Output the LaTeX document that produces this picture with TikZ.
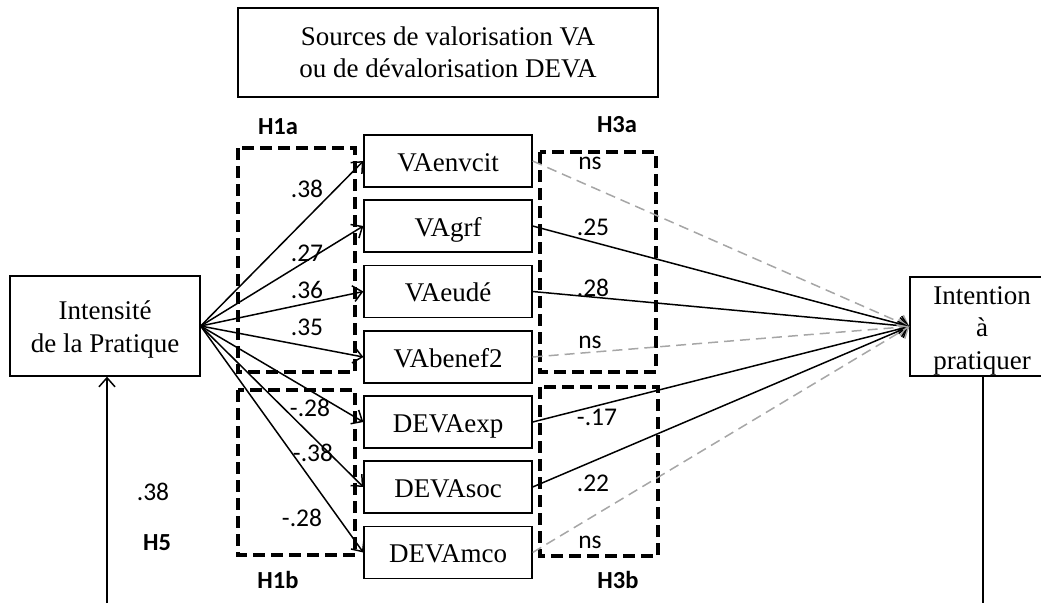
\documentclass[tikz,border=0pt]{standalone}
\usepackage{fontspec}
\setmainfont{Liberation Serif}
\newfontfamily\numfont{Carlito}
\usetikzlibrary{arrows.meta}
\begin{document}
\begin{tikzpicture}[x=1pt,y=-1pt,
  box/.style={draw,line width=1.3pt,inner sep=0pt,align=center,font=\fontsize{27}{32.5}\selectfont},
  midbox/.style={box,minimum width=168pt,minimum height=52pt,text height=22pt,text depth=2pt},
  hyp/.style={draw,line width=3.5pt,dash pattern=on 12pt off 6pt},
  coef/.style={font=\numfont\fontsize{25.5}{28}\selectfont,inner sep=0pt},
  hlab/.style={font=\numfont\bfseries\fontsize{24.5}{28}\selectfont,inner sep=0pt},
  conn/.style={line width=1.5pt,-{Straight Barb[length=9pt,width=16pt,line width=1.5pt]}},
  nsconn/.style={conn,draw=black!35,dash pattern=on 10pt off 6pt},
  plain/.style={line width=1.5pt}
]
\useasboundingbox (0,0) rectangle (1041,603);
\clip (0,0) rectangle (1041,603);

% dashed hypothesis frames
\draw[hyp] (238,148) rectangle (355,372);
\draw[hyp] (238,390) rectangle (355,555);
\draw[hyp] (540,152) rectangle (656,372);
\draw[hyp] (540,387) rectangle (658,556);

% main boxes
\node[box,minimum width=420pt,minimum height=89pt] (src) at (448,52.5) {Sources de valorisation VA\\ou de dévalorisation DEVA};
\node[box,minimum width=190pt,minimum height=100pt] (ip) at (105,326) {\rule{0pt}{26pt}Intensité\\de la Pratique};
\node[box,minimum width=144pt,minimum height=99pt] (it) at (982,326.5) {\rule{0pt}{26pt}Intention\\à\\pratiquer};

\node[midbox] (m1) at (448,161) {VAenvcit};
\node[midbox] (m2) at (448,226) {VAgrf};
\node[midbox] (m3) at (448,291.5) {VAeudé};
\node[midbox] (m4) at (448,357) {VAbenef2};
\node[midbox] (m5) at (448,422) {DEVAexp};
\node[midbox] (m6) at (448,487) {DEVAsoc};
\node[midbox] (m7) at (448,552.5) {DEVAmco};

% hypothesis labels
\node[hlab] (h1a) at (278,127) {H1a};
\node[hlab] (h1b) at (278,580) {H1b};
\node[hlab] (h3a) at (617,125) {H3a};
\node[hlab] (h3b) at (618,580) {H3b};
\node[hlab] (h5) at (157,543) {H5};
\node[coef] (c5) at (153,492) {.38};

% left paths
\foreach \m in {m1,m2,m3,m4,m5,m6,m7}
  \draw[conn] (ip.east) -- (\m.west);

% right paths
\draw[nsconn] (m1.east) -- (it.west);
\draw[conn] (m2.east) -- (it.west);
\draw[conn] (m3.east) -- (it.west);
\draw[nsconn] (m4.east) -- (it.west);
\draw[conn] (m5.east) -- (it.west);
\draw[conn] (m6.east) -- (it.west);
\draw[nsconn] (m7.east) -- (it.west);

% coefficients
\node[coef] (a1) at (307,189) {.38};
\node[coef] (a2) at (307,253) {.27};
\node[coef] (a3) at (307,290) {.36};
\node[coef] (a4) at (307,327) {.35};
\node[coef] (a5) at (310,408) {-.28};
\node[coef] (a6) at (313,453) {-.38};
\node[coef] (a7) at (302,518) {-.28};

\node[coef] (b1) at (590,163) {ns};
\node[coef] (b2) at (593,227) {.25};
\node[coef] (b3) at (593,288) {.28};
\node[coef] (b4) at (590,342) {ns};
\node[coef] (b5) at (597,417) {-.17};
\node[coef] (b6) at (593,483) {.22};
\node[coef] (b7) at (590,542) {ns};

% vertical lines
\coordinate (bl) at (107,603);
\coordinate (br) at (983,603);
\draw[conn] (bl) -- (bl |- ip.south);
\draw[plain] (br |- it.south) -- (br);
\end{tikzpicture}
\end{document}
